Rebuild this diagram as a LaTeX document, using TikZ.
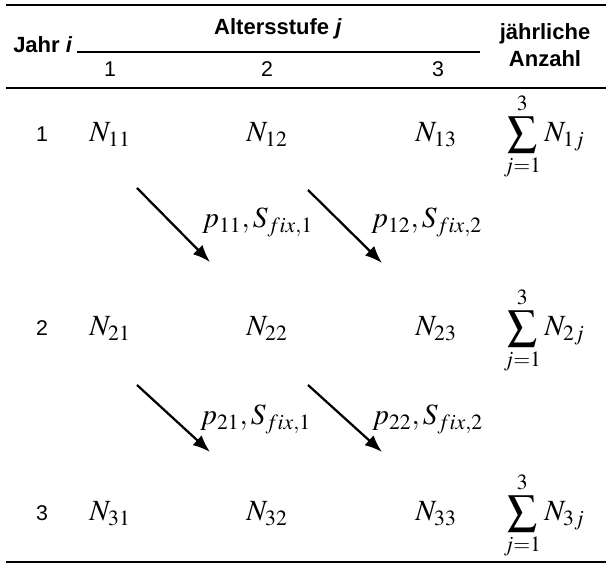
\documentclass[tikz,border=0pt]{standalone}
\usepackage{mathptmx}
\usepackage[no-math]{fontspec}
\setmainfont{Liberation Sans}
\usetikzlibrary{arrows.meta}

\begin{document}
\begin{tikzpicture}[x=0.75pt, y=-0.75pt, every node/.style={inner sep=0pt},
	head/.style={font=\fontsize{16.5}{20}\selectfont\bfseries, anchor=base},
	num/.style={font=\fontsize{16}{18}\selectfont, anchor=base},
	cell/.style={font=\fontsize{22}{26}\selectfont, anchor=base},
	rate/.style={font=\fontsize{22}{26}\selectfont, anchor=base west},
	rule/.style={line width=1.8pt},
	flow/.style={line width=1.7pt, -{Latex[length=13pt, width=10pt]}}]
	\useasboundingbox (0,0) rectangle (608,566);
	\draw[rule] (6,5) -- (606,5);
	\draw[rule] (6,88) -- (606,88);
	\draw[rule] (6,562) -- (606,562);
	\draw[line width=1.3pt] (77,52) -- (480,52);
	\node[head, anchor=base west] (jahr) at (13,53) {Jahr \textit{i}};
	\node[head] (alter) at (278,35) {Altersstufe \textit{j}};
	\node[head] (anz1) at (545,40) {jährliche};
	\node[head] (anz2) at (545,67) {Anzahl};
	\node[num] (c1) at (110,77) {1};
	\node[num] (c2) at (267,77) {2};
	\node[num] (c3) at (438,77) {3};
	\node[num] (r1) at (42,142) {1};
	\node[cell] (n11) at (110,142) {$N_{11}$};
	\node[cell] (n12) at (267,142) {$N_{12}$};
	\node[cell] (n13) at (436,142) {$N_{13}$};
	\node[cell] (s1) at (544,142) {$\displaystyle\sum_{j=1}^{3}N_{1j}$};
	\node[num] (r2) at (42,336) {2};
	\node[cell] (n21) at (110,336) {$N_{21}$};
	\node[cell] (n22) at (267,336) {$N_{22}$};
	\node[cell] (n23) at (436,336) {$N_{23}$};
	\node[cell] (s2) at (544,336) {$\displaystyle\sum_{j=1}^{3}N_{2j}$};
	\node[num] (r3) at (42,521) {3};
	\node[cell] (n31) at (110,521) {$N_{31}$};
	\node[cell] (n32) at (267,521) {$N_{32}$};
	\node[cell] (n33) at (436,521) {$N_{33}$};
	\node[cell] (s3) at (544,521) {$\displaystyle\sum_{j=1}^{3}N_{3j}$};
	\coordinate (a11) at (137,188);
	\coordinate (b11) at (210,262);
	\coordinate (a12) at (308,190);
	\coordinate (b12) at (382,263);
	\coordinate (a21) at (137,385);
	\coordinate (b21) at (210,452);
	\coordinate (a22) at (308,385);
	\coordinate (b22) at (382,452);
	\draw[flow] (a11) -- (b11);
	\draw[flow] (a12) -- (b12);
	\draw[flow] (a21) -- (b21);
	\draw[flow] (a22) -- (b22);
	\node[rate] (l11) at (202,228) {$p_{11},S_{fix,1}$};
	\node[rate] (l12) at (371,228) {$p_{12},S_{fix,2}$};
	\node[rate] (l21) at (200,425) {$p_{21},S_{fix,1}$};
	\node[rate] (l22) at (372,425) {$p_{22},S_{fix,2}$};
\end{tikzpicture}
\end{document}
